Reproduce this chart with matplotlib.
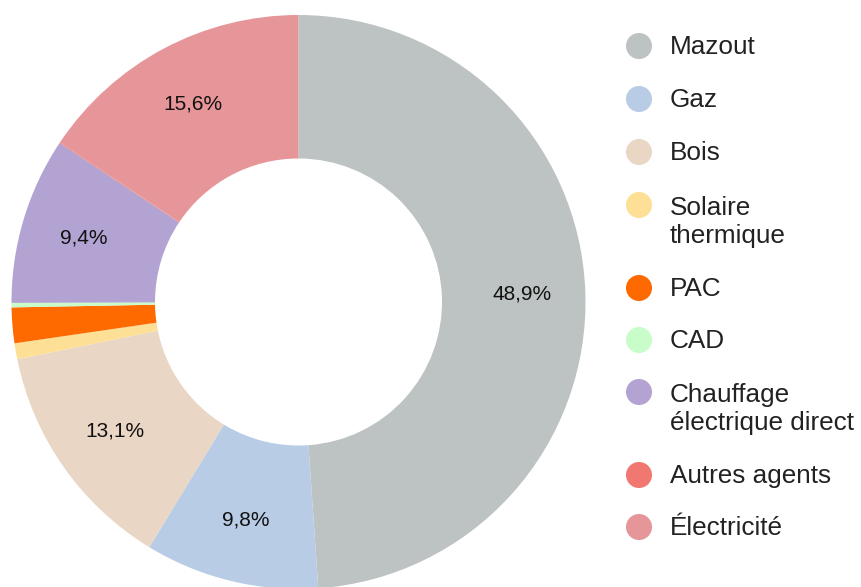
import matplotlib
matplotlib.use("Agg")
import matplotlib.pyplot as plt
import numpy as np

categories = ["Mazout", "Gaz", "Bois", "Solaire\nthermique", "PAC", "CAD",
              "Chauffage\nélectrique direct", "Autres agents", "Électricité"]
values = [48.9, 9.8, 13.1, 0.9, 2.0, 0.25, 9.4, 0.05, 15.6]
colors = ["#bdc3c2", "#b8cce6", "#ead6c5", "#fddf96", "#ff6a00", "#c8fcc8",
          "#b3a3d2", "#f07870", "#e69598"]
show_label = [True, True, True, False, False, False, True, False, True]

plt.rcParams['font.family'] = ['Liberation Sans', 'DejaVu Sans']

W, H = 862, 587
fig = plt.figure(figsize=(W / 100, H / 100), dpi=100)

ax = fig.add_axes([11.5 / W, (H - 589) / H, 574 / W, 574 / H])
wedges, _ = ax.pie(values, colors=colors, startangle=90, counterclock=False,
                   radius=1.0, wedgeprops=dict(width=0.5, linewidth=0))
ax.set_xlim(-1, 1)
ax.set_ylim(-1, 1)
ax.set_aspect('equal')
ax.axis('off')

total = sum(values)
cum = 0.0
for v, show in zip(values, show_label):
    mid = cum + v / 2
    cum += v
    if not show:
        continue
    ang = np.deg2rad(90 - 360 * mid / total)
    r = 0.78
    ax.text(r * np.cos(ang), r * np.sin(ang), f"{v:.1f}%".replace('.', ','),
            ha='center', va='center', fontsize=15, color='#111111')

# legend
lax = fig.add_axes([0, 0, 1, 1])
lax.set_xlim(0, W)
lax.set_ylim(H, 0)
lax.axis('off')
row_y = [46, 99, 152, 221, 288, 340, 408, 475, 527]
for cat, col, y in zip(categories, colors, row_y):
    nlines = cat.count('\n') + 1
    cy = y - (nlines - 1) * 16
    lax.scatter([639], [cy], s=26 ** 2 * 0.52, color=col, edgecolors='none')
    lax.text(670, y + 1, cat, ha='left', va='center', fontsize=18.8,
             color='#222222', linespacing=1.25)

fig.savefig("out.png", dpi=100)
